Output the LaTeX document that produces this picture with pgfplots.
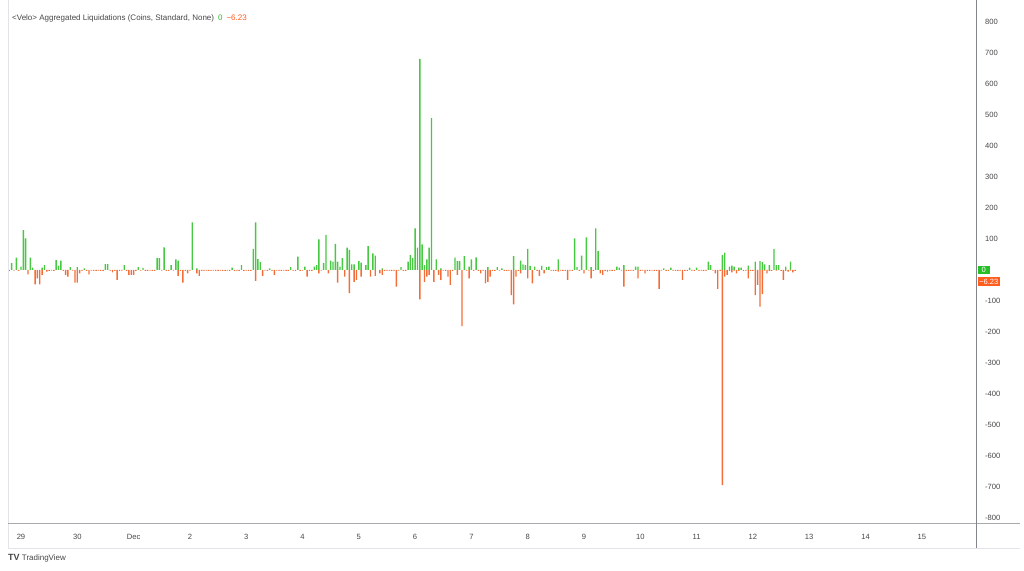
\documentclass[border=0pt]{standalone}
\usepackage{fontspec}
\setmainfont{Liberation Sans}
\usepackage{pgfplots}
\pgfplotsset{compat=1.18}
\definecolor{tvgreen}{RGB}{70,200,66}
\definecolor{tvorange}{RGB}{242,110,56}
\definecolor{tvboxg}{RGB}{40,190,40}
\definecolor{tvboxo}{RGB}{255,92,30}
\definecolor{tvgrid}{RGB}{226,228,234}
\definecolor{tvtext}{RGB}{70,70,70}
\definecolor{tvaxis}{RGB}{130,133,140}
\begin{document}
\begin{tikzpicture}
\useasboundingbox (-8pt,-47pt) rectangle (1016pt,523pt);
\begin{axis}[
  at={(0pt,0pt)}, anchor=south west,
  scale only axis, width=968pt, height=518pt,
  xmin=-5.54, xmax=407.1, ymin=-816.1, ymax=854.8,
  clip mode=individual,
  axis line style={draw=none}, tick style={draw=none},
  xtick={0,24,...,384},
  xticklabels={29,30,Dec,2,3,4,5,6,7,8,9,10,11,12,13,14,15},
  ytick={-800,-700,-600,-500,-400,-300,-200,-100,100,200,300,400,500,600,700,800},
  yticklabel pos=right,
  ticklabel style={font=\fontsize{7.6}{9}\selectfont, text=tvtext},
  xticklabel style={anchor=center, yshift=-10pt},
  yticklabel style={anchor=west, xshift=5.5pt},
  /pgf/number format/assume math mode=true,
  ybar, bar width=1.4pt,
]
\addplot[fill=tvgreen, draw=none, bar shift=0pt] coordinates {
(-4,22) (-2,40) (0,11) (1,129) (2,102) (4,40) (5,8) (9,8) (10,16) (15,32) (16,14) (17,30) (21,9) (24,9) (27,5) (36,19) (37,19) (44,16) (50,9) (52,7) (58,38) (59,38) (61,73) (64,16) (66,34) (67,30) (73,154) (75,5) (90,8) (94,16) (99,68) (100,154) (101,35) (102,25) (106,5) (115,9) (118,43) (121,11) (125,11) (126,16) (127,99) (129,22) (130,113) (132,30) (133,27) (134,84) (135,27) (136,11) (137,38) (139,72) (140,65) (141,18) (142,18) (144,29) (145,24) (147,16) (148,77) (150,54) (151,46) (154,5) (162,9) (165,27) (166,48) (167,38) (168,134) (169,72) (170,681) (171,83) (172,16) (173,34) (174,72) (175,490) (177,34) (179,5) (185,40) (186,29) (187,29) (189,45) (191,11) (192,34) (194,41) (199,9) (203,9) (205,5) (210,45) (213,30) (214,18) (215,16) (216,68) (217,13) (219,11) (222,13) (224,9) (225,11) (229,34) (236,102) (237,9) (239,46) (241,105) (243,9) (245,134) (246,61) (254,11) (255,8) (257,16) (262,11) (263,11) (274,5) (277,8) (285,8) (288,8) (293,27) (294,16) (299,48) (300,56) (302,11) (303,14) (304,11) (306,8) (307,8) (310,14) (313,27) (315,29) (316,25) (317,18) (319,16) (321,67) (322,16) (323,16) (326,11) (328,27)
};
\addplot[fill=tvorange, draw=none, bar shift=0pt] coordinates {
(3,-14) (6,-46) (7,-27) (8,-46) (9,-16) (11,-5) (19,-16) (20,-21) (23,-41) (24,-41) (25,-11) (29,-14) (39,-8) (41,-32) (46,-16) (47,-16) (48,-16) (67,-19) (69,-41) (71,-11) (75,-11) (76,-19) (100,-35) (103,-19) (108,-16) (122,-21) (127,-11) (131,-11) (135,-41) (138,-21) (140,-75) (142,-38) (143,-32) (145,-21) (149,-21) (151,-19) (153,-11) (154,-16) (160,-54) (170,-95) (172,-38) (173,-21) (174,-16) (176,-38) (178,-16) (179,-32) (182,-21) (183,-48) (186,-16) (188,-181) (191,-27) (196,-11) (198,-43) (199,-38) (200,-21) (209,-81) (210,-111) (211,-21) (213,-11) (216,-27) (218,-43) (221,-19) (223,-11) (229,-5) (233,-32) (240,-11) (243,-27) (247,-11) (248,-16) (250,-5) (257,-54) (263,-27) (266,-11) (272,-61) (282,-32) (296,-11) (297,-61) (299,-694) (300,-21) (301,-16) (303,-8) (305,-11) (310,-27) (313,-81) (314,-48) (315,-118) (316,-78) (318,-11) (325,-32) (327,-5) (329,-8)
};
\addplot[fill=tvorange, draw=none, bar shift=0pt] coordinates {
(-5,-3) (-3,-2) (-1,-3) (12,-3) (13,-2) (14,-3) (18,-3) (22,-2) (26,-3) (28,-3) (30,-2) (31,-3) (32,-3) (33,-2) (34,-3) (35,-3) (38,-2) (40,-3) (42,-3) (43,-2) (45,-3) (49,-3) (51,-2) (53,-3) (54,-3) (55,-2) (56,-3) (57,-3) (60,-2) (62,-3) (63,-3) (65,-2) (68,-3) (70,-3) (72,-2) (77,-3) (78,-3) (79,-2) (80,-3) (81,-3) (82,-2) (83,-3) (84,-3) (85,-2) (86,-3) (87,-3) (88,-2) (89,-3) (91,-3) (92,-2) (93,-3) (95,-3) (96,-2) (97,-3) (98,-3) (104,-2) (105,-3) (107,-3) (109,-2) (110,-3) (111,-3) (112,-2) (113,-3) (114,-3) (116,-2) (117,-3) (119,-3) (120,-2) (123,-3) (124,-3) (128,-2) (155,-3) (156,-3) (157,-2) (158,-3) (159,-3) (161,-2) (163,-3) (164,-3) (180,-2) (181,-3) (184,-3) (190,-2) (193,-3) (195,-3) (197,-2) (201,-3) (202,-3) (204,-2) (206,-3) (207,-3) (208,-2) (212,-3) (220,-3) (226,-2) (227,-3) (228,-3) (230,-2) (231,-3) (232,-3) (234,-2) (235,-3) (238,-3) (242,-2) (244,-3) (249,-3) (251,-2) (252,-3) (253,-3) (256,-2) (258,-3) (259,-3) (260,-2) (261,-3) (264,-3) (265,-2) (267,-3) (268,-3) (269,-2) (270,-3) (271,-3) (273,-2) (275,-3) (276,-3) (278,-2) (279,-3) (280,-3) (281,-2) (283,-3) (284,-3) (286,-2) (287,-3) (289,-3) (290,-2) (291,-3) (292,-3) (295,-2) (298,-3) (302,-3) (304,-2) (306,-3) (308,-3) (309,-2) (311,-3) (312,-3) (317,-2) (319,-3) (320,-3) (322,-2) (324,-3) (326,-3) (328,-2) (330,-3)
};
\node[fill=tvboxg, text=white, font=\fontsize{7.6}{9}\selectfont, inner sep=1.5pt, anchor=west, minimum width=12pt] at (axis cs:407.1,0) [xshift=1.5pt] {0};
\node[fill=tvboxo, text=white, font=\fontsize{7.6}{9}\selectfont, inner sep=1.5pt, anchor=west] at (axis cs:407.1,0) [xshift=1.5pt, yshift=-11.5pt] {−6.23};
\end{axis}
\draw[tvgrid, line width=0.6pt] (0pt,523pt) -- (0pt,-25pt) -- (1012pt,-25pt);
\draw[tvaxis!70, line width=0.9pt] (0pt,0pt) -- (1012pt,0pt);
\draw[tvaxis, line width=0.9pt] (968pt,523pt) -- (968pt,-25pt);
\node[anchor=west, font=\fontsize{8}{9}\selectfont, text=tvtext, inner sep=0pt] at (4pt,505pt) {<Velo> Aggregated Liquidations (Coins, Standard, None)\enspace\textcolor{tvboxg}{0}\enspace\textcolor{tvboxo}{−6.23}};
\node[anchor=west, font=\fontsize{8}{9}\selectfont, text=tvtext, inner sep=0pt] at (0pt,-35pt) {\textbf{\fontsize{9}{10}\selectfont TV} TradingView};
\end{tikzpicture}
\end{document}
